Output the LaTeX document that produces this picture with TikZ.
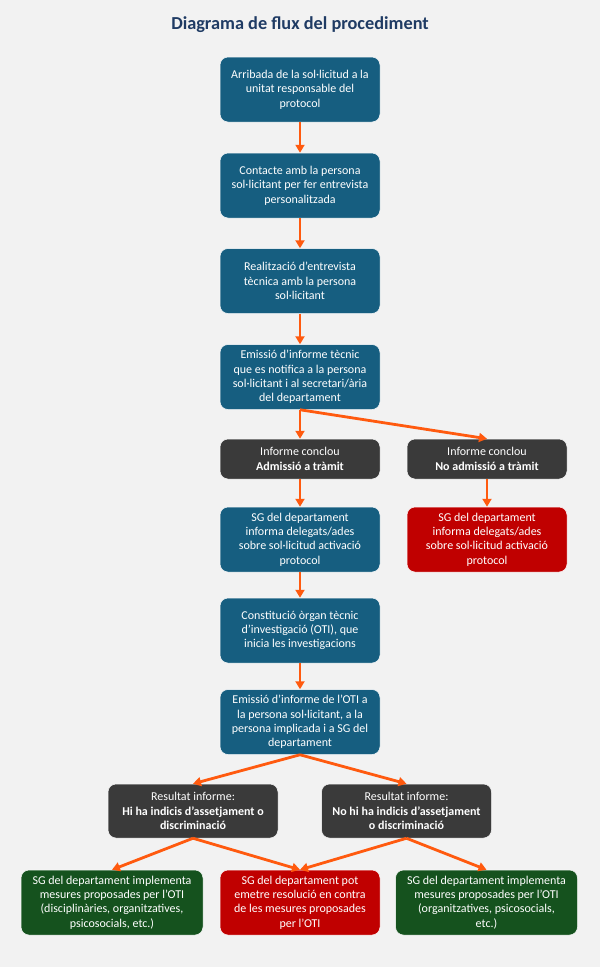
\documentclass[tikz,border=0pt]{standalone}
\usepackage{fontspec}
\setmainfont{Carlito}
\usepackage{tikz}
\usetikzlibrary{arrows.meta}
\definecolor{bgcol}{HTML}{F2F2F2}
\definecolor{titlecol}{HTML}{1F3B64}
\definecolor{stepcol}{HTML}{165E80}
\definecolor{greycol}{HTML}{3A3A3A}
\definecolor{redcol}{HTML}{C00000}
\definecolor{greencol}{HTML}{15521E}
\definecolor{flowcol}{HTML}{FF5A0F}
\tikzset{>={Triangle[length=8pt,width=9pt]}}
\tikzstyle{box}=[
	 rectangle, rounded corners=8pt,
	 draw=white, line width=0.5pt,
	 text=white, align=center,
	 font=\fontsize{12}{14.3}\selectfont,
	 inner sep=1pt,
	 minimum width=160pt, minimum height=65pt
    ]
\tikzstyle{bluebox}=[box, fill=stepcol]
\tikzstyle{greybox}=[box, fill=greycol]
\tikzstyle{redbox}=[box, fill=redcol]
\tikzstyle{greenbox}=[box, fill=greencol, minimum width=182pt]
\tikzstyle{flow}=[->, draw=flowcol, line width=2.8pt]
\newcommand{\flow}[2]{\draw[flow] (#1.south) -- (#2.north)}

\begin{document}
\begin{tikzpicture}[x=1pt,y=-1pt]

\path[fill=bgcol, use as bounding box] (0,0) rectangle (600,967);

\node[text=titlecol, font=\fontsize{18.3}{22}\selectfont\bfseries] (title) at (300,25) {Diagrama de flux del procediment};

\node[bluebox] (arr) at (300,89.5) {Arribada de la sol·licitud a la\\unitat responsable del\\protocol};
\node[bluebox] (cont) at (300,185.5) {Contacte amb la persona\\sol·licitant per fer entrevista\\personalitzada};
\node[bluebox] (entr) at (300,281) {Realització d’entrevista\\tècnica amb la persona\\sol·licitant};
\node[bluebox] (emis) at (300,377) {Emissió d’informe tècnic\\que es notifica a la persona\\sol·licitant i al secretari/ària\\del departament};

\node[greybox, minimum height=40pt] (adm) at (300,459) {Informe conclou\\\textbf{Admissió a tràmit}};
\node[greybox, minimum height=40pt] (noadm) at (487,459) {Informe conclou\\\textbf{No admissió a tràmit}};

\node[bluebox] (sgadm) at (300,539.5) {SG del departament\\informa delegats/ades\\sobre sol·licitud activació\\protocol};
\node[redbox] (sgno) at (487,539.5) {SG del departament\\informa delegats/ades\\sobre sol·licitud activació\\protocol};

\node[bluebox] (oti) at (300,630.5) {Constitució òrgan tècnic\\d’investigació (OTI), que\\inicia les investigacions};
\node[bluebox] (inf) at (300,722) {Emissió d’informe de l’OTI a\\la persona sol·licitant, a la\\persona implicada i a SG del\\departament};

\node[greybox, minimum width=170pt, minimum height=54pt] (hi) at (193,811) {Resultat informe:\\\textbf{Hi ha indicis d’assetjament o}\\\textbf{discriminació}};
\node[greybox, minimum width=170pt, minimum height=54pt] (nohi) at (406.5,811) {Resultat informe:\\\textbf{No hi ha indicis d’assetjament}\\\textbf{o discriminació}};

\node[greenbox] (mesA) at (112,902.5) {SG del departament implementa\\mesures proposades per l’OTI\\(disciplinàries, organitzatives,\\psicosocials, etc.)};
\node[redbox] (resol) at (300,902.5) {SG del departament pot\\emetre resolució en contra\\de les mesures proposades\\per l’OTI};
\node[greenbox] (mesB) at (486.5,902.5) {SG del departament implementa\\mesures proposades per l’OTI\\(organitzatives, psicosocials,\\etc.)};

\flow{arr}{cont};
\flow{cont}{entr};
\flow{entr}{emis};
\flow{emis}{adm};
\flow{emis}{noadm};
\flow{adm}{sgadm};
\flow{noadm}{sgno};
\flow{sgadm}{oti};
\flow{oti}{inf};
\flow{inf}{hi};
\flow{inf}{nohi};
\flow{hi}{mesA};
\flow{hi}{resol};
\flow{nohi}{resol};
\flow{nohi}{mesB};

\end{tikzpicture}
\end{document}
